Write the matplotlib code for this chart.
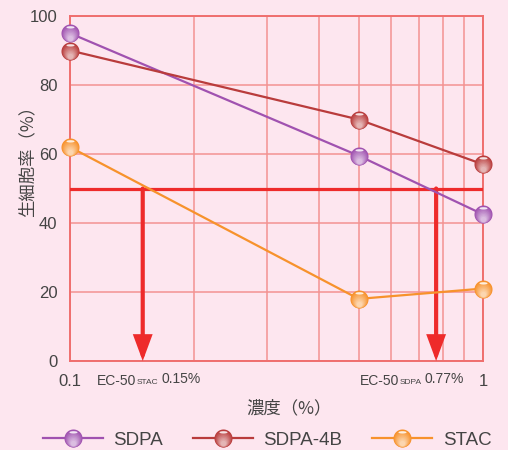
import numpy as np
import matplotlib
matplotlib.use('Agg')
import matplotlib.pyplot as plt
from matplotlib.path import Path
from matplotlib.legend_handler import HandlerTuple
from matplotlib.colors import to_rgb

# 濃度と生細胞率
conc = [0.1, 0.5, 1.0]
series_names = ['SDPA', 'SDPA-4B', 'STAC']
sdpa = [95, 59.5, 42.5]
sdpa_4b = [90, 70, 57]
stac = [62, 18, 21]
series_values = [sdpa, sdpa_4b, stac]
ec50_level = 50
ec50_stac = 0.15
ec50_sdpa = 0.77
xticks = [0.1, 1]
xtick_labels = ['0.1', '1']
yticks = [0, 20, 40, 60, 80, 100]

bg = '#fde6ef'
grid_c = '#f39292'
spine_c = '#ef6e6e'
red = '#ee2b2b'
text_c = '#444444'
colors = ['#a052b0', '#b93c3c', '#f7922c']

num_font = ['Liberation Sans Narrow', 'Liberation Sans', 'DejaVu Sans']
jp_font = ['Noto Sans CJK JP', 'DejaVu Sans']


def ellipse_marker(cx, cy, rx, ry):
    # (1,0)の点も入れて、マーカーの正規化を半径1に固定する
    t = np.linspace(0, 2 * np.pi, 60)
    verts = [(1.0, 0.0)] + [(cx + rx * np.cos(a), cy + ry * np.sin(a)) for a in t]
    codes = [Path.MOVETO, Path.MOVETO] + [Path.LINETO] * (len(t) - 2) + [Path.CLOSEPOLY]
    return Path(verts, codes)


def mix(c, w):
    c = np.array(to_rgb(c))
    return tuple(c + (1 - c) * w)


# 球っぽいマーカー: 下に行くほど明るく、上に白いハイライト
layers = [(ellipse_marker(0, 0, 1.0, 1.0), 0.0)]
for i in range(1, 9):
    t = i / 8
    r = 1 - 0.7 * t
    layers.append((ellipse_marker(0, -0.55 * t, r, r), 0.62 * t))
layers.append((ellipse_marker(0, 0.68, 0.45, 0.13), 0.85))
ms = 13

fig = plt.figure(figsize=(5.08, 4.5), dpi=100, facecolor=bg)
ax = fig.add_axes([70 / 508, 1 - 361 / 450, 413 / 508, 345 / 450])
ax.set_facecolor(bg)
ax.set_xscale('log')
ax.set_xlim(0.1, 1)
ax.set_ylim(0, 100)

ax.set_xticks(xticks, xtick_labels)
ax.set_xticks(np.arange(2, 10) / 10, minor=True)
ax.set_yticks(yticks)
ax.xaxis.set_minor_formatter(plt.NullFormatter())
ax.tick_params(which='both', length=0, colors=text_c, labelsize=12, pad=9)
for lab in ax.get_xticklabels() + ax.get_yticklabels():
    lab.set_family(num_font)
ax.grid(True, which='both', color=grid_c, lw=1.1)
ax.set_axisbelow(True)
for s in ax.spines.values():
    s.set_color(spine_c)
    s.set_linewidth(1.4)

# EC-50 の基準線と矢印
ax.axhline(ec50_level, color=red, lw=2.3, zorder=3)
for xv in [ec50_stac, ec50_sdpa]:
    ax.annotate('', xy=(xv, 0), xytext=(xv, ec50_level),
                arrowprops=dict(arrowstyle='-|>,head_width=0.5,head_length=1.35',
                                lw=3, color=red, shrinkA=0, shrinkB=0,
                                joinstyle='miter'), zorder=3)

handles = []
for name, vals, c in zip(series_names, series_values, colors):
    ln, = ax.plot(conc, vals, color=c, lw=1.6, zorder=4, clip_on=False)
    parts = [ln]
    for i, (mk, w) in enumerate(layers):
        p, = ax.plot(conc, vals, ls='none', marker=mk, ms=ms,
                     mfc=mix(c, w), mec='none', zorder=5 + i, clip_on=False)
        parts.append(p)
    handles.append(tuple(parts))


def ec_label(x_px, sub, val):
    t1 = fig.text(x_px / 508, 1 - 381 / 450, 'EC-50', fontsize=10,
                  color=text_c, family=num_font, va='center')
    t2 = ax.annotate(sub, xy=(1, 0.12), xycoords=t1, fontsize=6,
                     color=text_c, family=num_font, va='bottom',
                     annotation_clip=False)
    ax.annotate('%.2f%%' % val, xy=(1, 0), xycoords=t2, xytext=(2.5, 0),
                textcoords='offset points', fontsize=10, color=text_c,
                family=num_font, va='bottom', annotation_clip=False)


ec_label(97, 'STAC', ec50_stac)
ec_label(360, 'SDPA', ec50_sdpa)

fig.text(289 / 508, 1 - 408 / 450, '濃度（%）', fontsize=12.5, color=text_c,
         family=jp_font, ha='center', va='center')
fig.text(27 / 508, 1 - 157 / 450, '生細胞率（%）', fontsize=12.5, color=text_c,
         family=jp_font, ha='center', va='center', rotation=90)

leg = fig.legend(handles, series_names, loc='center left',
                 bbox_to_anchor=(43 / 508, 1 - 440 / 450), ncol=3, frameon=False,
                 handlelength=3.2, handletextpad=0.55, columnspacing=1.6,
                 fontsize=13.5, borderpad=0, borderaxespad=0,
                 handler_map={tuple: HandlerTuple(ndivide=1, pad=0)})
for t in leg.get_texts():
    t.set_color(text_c)
    t.set_family(num_font)

fig.savefig('out.png', dpi=100, facecolor=bg)
